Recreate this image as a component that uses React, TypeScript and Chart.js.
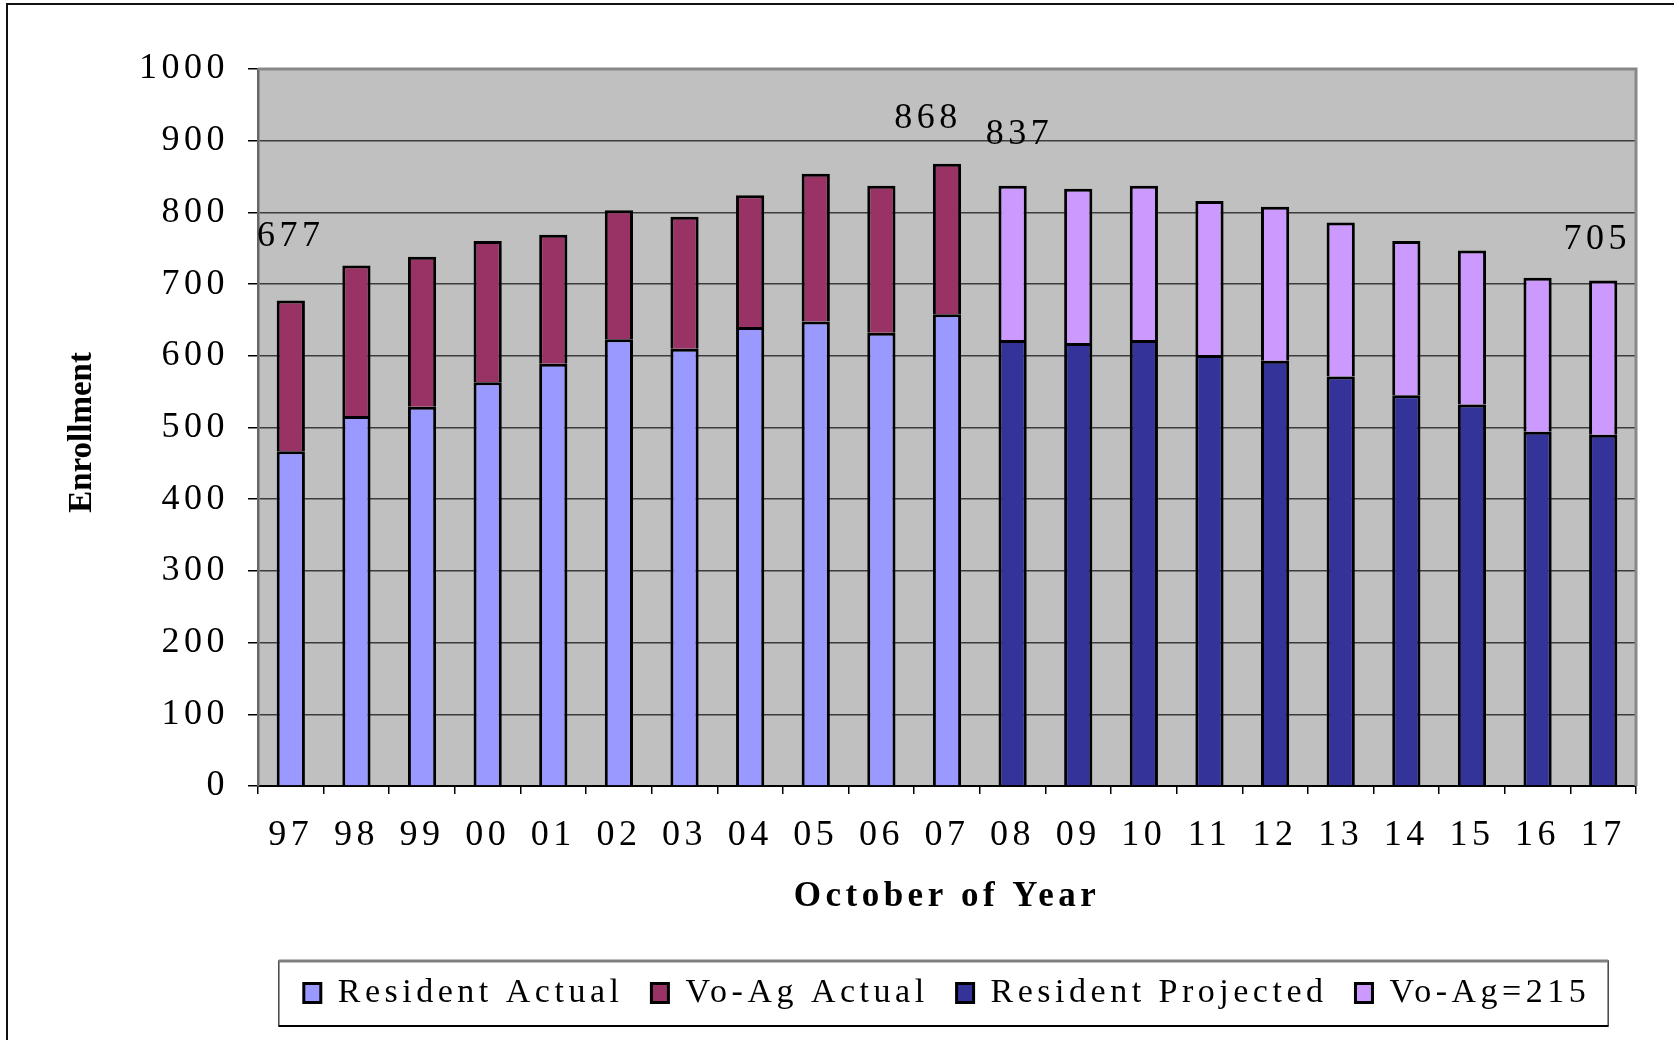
import React, { useEffect, useRef } from 'react';
import { Chart, registerables } from 'chart.js';

Chart.register(...registerables);

// ---------- data ----------
const categories = ['97', '98', '99', '00', '01', '02', '03', '04', '05', '06', '07', '08', '09', '10', '11', '12', '13', '14', '15', '16', '17'];
const residentActual = [467, 516, 529, 563, 589, 623, 610, 640, 648, 632, 658, null, null, null, null, null, null, null, null, null, null];
const voAgActual = [210, 210, 209, 197, 180, 180, 184, 184, 206, 205, 210, null, null, null, null, null, null, null, null, null, null];
const residentProjected = [null, null, null, null, null, null, null, null, null, null, null, 622, 618, 622, 601, 593, 571, 545, 532, 494, 490];
const voAgProjected = [null, null, null, null, null, null, null, null, null, null, null, 215, 215, 215, 215, 215, 215, 215, 215, 215, 215];
const seriesNames = ['Resident Actual', 'Vo-Ag Actual', 'Resident Projected', 'Vo-Ag=215'];
const yTicks = [0, 100, 200, 300, 400, 500, 600, 700, 800, 900, 1000];
const labeledCategories = ['97', '07', '08', '17'];
const xTitle = 'October of Year';
const yTitle = 'Enrollment';

// ---------- styles ----------
const SERIF = '"Liberation Serif", "Times New Roman", serif';
const LETTER_SPACING = '4.5px';
const colors = ['#9999FF', '#993366', '#333399', '#CC99FF'];
const labelOffsets: Record<string, [number, number]> = {
  '97': [0, -64],
  '07': [-19, -45],
  '08': [7, -51],
  '17': [-6, -41],
};

const totals = categories.map((_, i) =>
  [residentActual, voAgActual, residentProjected, voAgProjected].reduce((s, arr) => s + (arr[i] ?? 0), 0)
);

const letterSpacingPlugin = {
  id: 'letterSpacingPlugin',
  beforeUpdate(chart: any) { chart.ctx.letterSpacing = LETTER_SPACING; },
  beforeLayout(chart: any) { chart.ctx.letterSpacing = LETTER_SPACING; },
  beforeDraw(chart: any) { chart.ctx.letterSpacing = LETTER_SPACING; },
};

const backgroundPlugin = {
  id: 'backgroundPlugin',
  beforeDraw(chart: any) {
    const { ctx, chartArea } = chart;
    const { left, top, right, bottom } = chartArea;
    ctx.save();
    ctx.fillStyle = '#C0C0C0';
    ctx.fillRect(left, top, right - left, bottom - top);
    const hbs = chart.legend && chart.legend.legendHitBoxes;
    if (hbs && hbs.length) {
      const first = hbs[0];
      const last = hbs[hbs.length - 1];
      const cy = first.top + first.height / 2;
      const fl = first.left - 25;
      const fr = last.left + last.width + 18;
      const ft = cy - 32;
      const fb = cy + 33;
      ctx.fillStyle = '#ffffff';
      ctx.fillRect(fl, ft, fr - fl, fb - ft);
      ctx.strokeStyle = '#444';
      ctx.lineWidth = 1.5;
      ctx.strokeRect(fl, ft, fr - fl, fb - ft);
      ctx.strokeStyle = '#808080';
      ctx.lineWidth = 3;
      ctx.beginPath(); ctx.moveTo(fl, ft); ctx.lineTo(fr, ft); ctx.stroke();
      ctx.strokeStyle = '#000';
      ctx.lineWidth = 2;
      ctx.beginPath(); ctx.moveTo(fl, fb); ctx.lineTo(fr, fb); ctx.stroke();
    }
    ctx.restore();
  },
};

const labelsPlugin = {
  id: 'labelsPlugin',
  afterDatasetsDraw(chart: any) {
    const { ctx } = chart;
    const xs = chart.scales.x;
    const ys = chart.scales.y;
    ctx.save();
    ctx.letterSpacing = LETTER_SPACING;
    ctx.font = `36px ${SERIF}`;
    ctx.fillStyle = '#000';
    ctx.textAlign = 'center';
    ctx.textBaseline = 'middle';
    labeledCategories.forEach((cat) => {
      const i = categories.indexOf(cat);
      const total = totals[i];
      const [dx, dy] = labelOffsets[cat] || [0, -50];
      ctx.fillText(String(total), xs.getPixelForValue(i) + dx, ys.getPixelForValue(total) + dy);
    });
    ctx.restore();
  },
};

const framePlugin = {
  id: 'framePlugin',
  afterDraw(chart: any) {
    const { ctx, chartArea } = chart;
    const { left, top, right, bottom } = chartArea;
    ctx.save();
    ctx.strokeStyle = '#888888';
    ctx.lineWidth = 3;
    ctx.beginPath();
    ctx.moveTo(left, top);
    ctx.lineTo(right, top);
    ctx.lineTo(right, bottom);
    ctx.stroke();
    ctx.letterSpacing = '0px';
    ctx.translate(82, (top + bottom) / 2 + 5);
    ctx.rotate(-Math.PI / 2);
    ctx.font = `bold 33px ${SERIF}`;
    ctx.fillStyle = '#000';
    ctx.textAlign = 'center';
    ctx.textBaseline = 'middle';
    ctx.fillText(yTitle, 0, 0);
    ctx.restore();
    ctx.save();
    ctx.strokeStyle = '#111';
    ctx.lineWidth = 2;
    ctx.beginPath();
    ctx.moveTo(7, 1040);
    ctx.lineTo(7, 4);
    ctx.lineTo(1674, 4);
    ctx.stroke();
    ctx.restore();
  },
};

export default function App() {
  const canvasRef = useRef<HTMLCanvasElement | null>(null);

  useEffect(() => {
    if (!canvasRef.current) return;
    const seriesData = [residentActual, voAgActual, residentProjected, voAgProjected];
    const chart = new Chart(canvasRef.current, {
      type: 'bar',
      data: {
        labels: categories,
        datasets: seriesData.map((d, k) => ({
          label: seriesNames[k],
          data: d as any,
          backgroundColor: colors[k],
          borderColor: '#000',
          borderWidth: 3,
          barPercentage: 0.43,
          categoryPercentage: 1,
        })),
      },
      options: {
        animation: false,
        responsive: false,
        layout: { padding: { top: 69, right: 38, left: 0, bottom: 20 } },
        plugins: {
          tooltip: { enabled: false },
          legend: {
            position: 'bottom',
            fullSize: false,
            labels: {
              boxWidth: 17,
              boxHeight: 19,
              padding: 28,
              color: '#000',
              font: { family: SERIF, size: 34 },
            },
          },
        },
        scales: {
          x: {
            stacked: true,
            afterFit: (s: any) => { s.height = 162; },
            grid: {
              display: true,
              offset: true,
              drawOnChartArea: false,
              color: '#000',
              tickColor: '#000',
              tickLength: 8,
              lineWidth: 1.5,
            },
            border: { display: true, color: '#000', width: 2 },
            ticks: {
              autoSkip: false,
              maxRotation: 0,
              padding: 20,
              color: '#000',
              font: { family: SERIF, size: 36 },
            },
            title: {
              display: true,
              text: xTitle,
              color: '#000',
              font: { family: SERIF, size: 35, weight: 'bold' },
              padding: { top: 0, bottom: 30 },
            },
          },
          y: {
            stacked: true,
            min: 0,
            max: 1000,
            afterFit: (s: any) => { s.width = 258; },
            afterBuildTicks: (s: any) => { s.ticks = yTicks.map((v) => ({ value: v })); },
            grid: {
              color: '#3c3c3c',
              tickColor: '#000',
              tickLength: 10,
              lineWidth: 1.5,
            },
            border: { display: true, color: '#666', width: 2.5 },
            ticks: {
              padding: 19,
              color: '#000',
              font: { family: SERIF, size: 36 },
              callback: (v: any) => String(v),
            },
          },
        },
      },
      plugins: [letterSpacingPlugin, backgroundPlugin, labelsPlugin, framePlugin],
    } as any);
    return () => chart.destroy();
  }, []);

  return (
    <div style={{ position: 'absolute', left: 0, top: 0, width: 1674, height: 1040, background: '#fff' }}>
      <canvas ref={canvasRef} width={1674} height={1040} style={{ display: 'block' }} />
    </div>
  );
}
